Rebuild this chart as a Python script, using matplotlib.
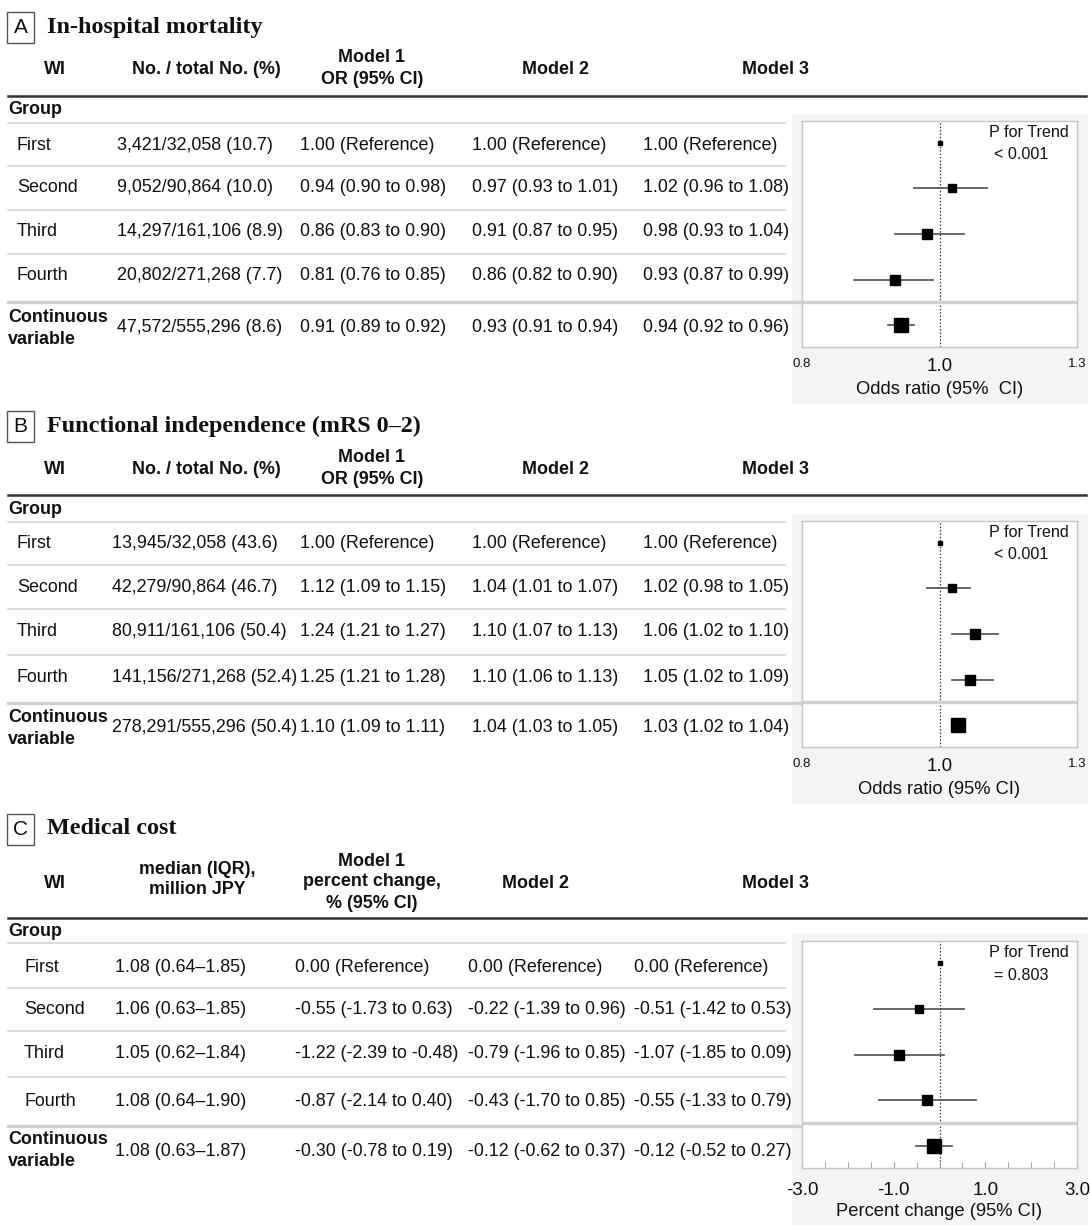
import numpy as np
import matplotlib.pyplot as plt
from matplotlib.patches import Rectangle

plt.rcParams["font.family"] = ["Liberation Sans", "DejaVu Sans"]

W, H = 1090, 1227

groups = ["First", "Second", "Third", "Fourth"]

# --- A: in-hospital mortality ---
a_events = [3421, 9052, 14297, 20802, 47572]
a_totals = [32058, 90864, 161106, 271268, 555296]
a_pct = [10.7, 10.0, 8.9, 7.7, 8.6]
a_m1 = [1.00, 0.94, 0.86, 0.81, 0.91]
a_m1_lo = [None, 0.90, 0.83, 0.76, 0.89]
a_m1_hi = [None, 0.98, 0.90, 0.85, 0.92]
a_m2 = [1.00, 0.97, 0.91, 0.86, 0.93]
a_m2_lo = [None, 0.93, 0.87, 0.82, 0.91]
a_m2_hi = [None, 1.01, 0.95, 0.90, 0.94]
a_m3 = [1.00, 1.02, 0.98, 0.93, 0.94]
a_m3_lo = [None, 0.96, 0.93, 0.87, 0.92]
a_m3_hi = [None, 1.08, 1.04, 0.99, 0.96]
a_trend = "< 0.001"

# --- B: functional independence ---
b_events = [13945, 42279, 80911, 141156, 278291]
b_totals = [32058, 90864, 161106, 271268, 555296]
b_pct = [43.6, 46.7, 50.4, 52.4, 50.4]
b_m1 = [1.00, 1.12, 1.24, 1.25, 1.10]
b_m1_lo = [None, 1.09, 1.21, 1.21, 1.09]
b_m1_hi = [None, 1.15, 1.27, 1.28, 1.11]
b_m2 = [1.00, 1.04, 1.10, 1.10, 1.04]
b_m2_lo = [None, 1.01, 1.07, 1.06, 1.03]
b_m2_hi = [None, 1.07, 1.13, 1.13, 1.05]
b_m3 = [1.00, 1.02, 1.06, 1.05, 1.03]
b_m3_lo = [None, 0.98, 1.02, 1.02, 1.02]
b_m3_hi = [None, 1.05, 1.10, 1.09, 1.04]
b_trend = "< 0.001"

# --- C: medical cost ---
c_median = [1.08, 1.06, 1.05, 1.08, 1.08]
c_q1 = [0.64, 0.63, 0.62, 0.64, 0.63]
c_q3 = [1.85, 1.85, 1.84, 1.90, 1.87]
c_m1 = [0.00, -0.55, -1.22, -0.87, -0.30]
c_m1_lo = [None, -1.73, -2.39, -2.14, -0.78]
c_m1_hi = [None, 0.63, -0.48, 0.40, 0.19]
c_m2 = [0.00, -0.22, -0.79, -0.43, -0.12]
c_m2_lo = [None, -1.39, -1.96, -1.70, -0.62]
c_m2_hi = [None, 0.96, 0.85, 0.85, 0.37]
c_m3 = [0.00, -0.51, -1.07, -0.55, -0.12]
c_m3_lo = [None, -1.42, -1.85, -1.33, -0.52]
c_m3_hi = [None, 0.53, 0.09, 0.79, 0.27]
# squares in the plot sit where they are drawn (centre of CI)
c_plot_est = [0.00, -0.45, -0.88, -0.27, -0.12]
c_trend = "= 0.803"

BODY = 12.9
HEAD = 12.9
INK = "#111111"


def fmt_est(est, lo, hi):
    if lo is None:
        return f"{est:.2f} (Reference)"
    return f"{est:.2f} ({lo:.2f} to {hi:.2f})"


fig = plt.figure(figsize=(W / 100, H / 100), dpi=100)
bg = fig.add_axes([0, 0, 1, 1])
bg.set_xlim(0, W)
bg.set_ylim(H, 0)
bg.axis("off")


def draw_table(letter, title, title_y, headers, head_line, group_y, group_line,
               rows_y, seps_y, cont_sep, label_x, col_x, cells):
    # letter box + title
    bg.add_patch(Rectangle((7, title_y - 15), 27, 31, fill=False, ec="#555555", lw=1))
    bg.text(20.5, title_y + 0.5, letter, ha="center", va="center", fontsize=15, color=INK)
    bg.text(47, title_y, title, ha="left", va="center", fontsize=17.4, color=INK,
            family="Liberation Serif", weight="bold")
    for x, y, s in headers:
        bg.text(x, y, s, ha="center", va="center", fontsize=HEAD, weight="bold", color=INK)
    bg.plot([8, 1086], [head_line, head_line], color="#333333", lw=1.8)
    bg.text(8, group_y, "Group", ha="left", va="center", fontsize=HEAD, weight="bold", color=INK)
    bg.plot([8, 785], [group_line, group_line], color="#d4d4d4", lw=1.2)
    for y in seps_y:
        bg.plot([8, 785], [y, y], color="#d4d4d4", lw=1.2)
    bg.plot([8, 800], [cont_sep, cont_sep], color="#cfcfcf", lw=2.4)
    for i, g in enumerate(groups):
        bg.text(label_x, rows_y[i], g, ha="left", va="center", fontsize=BODY, color=INK)
    bg.text(8, rows_y[4] - 11, "Continuous", ha="left", va="center", fontsize=HEAD,
            weight="bold", color=INK)
    bg.text(8, rows_y[4] + 11, "variable", ha="left", va="center", fontsize=HEAD,
            weight="bold", color=INK)
    for cx, col in zip(col_x, cells):
        for i, s in enumerate(col):
            bg.text(cx, rows_y[i], s, ha="left", va="center", fontsize=BODY, color=INK)


def draw_forest(box, est, lo, hi, log, xlim, ticks, ticklabels, tick_fs, xlabel,
                trend, minor=None):
    x0, y0, x1, y1 = box
    # light grey panel behind the plot
    bg.add_patch(Rectangle((x0 - 10, y0 - 7), x1 - x0 + 21, y1 - y0 + 64,
                           fc="#f4f4f4", ec="none"))
    ax = fig.add_axes([x0 / W, 1 - y1 / H, (x1 - x0) / W, (y1 - y0) / H])
    ax.set_facecolor("white")
    if log:
        ax.set_xscale("log")
    rows = np.arange(len(est))
    sizes = [3.2, 5.8, 6.6, 7.4, 9.8]
    ref = 1.0 if log else 0.0
    ax.axvline(ref, color="#333333", ls=(0, (1.2, 1.5)), lw=0.9, zorder=1)
    ax.axhline(3.5, color="#cfcfcf", lw=2.4, zorder=1)
    for i in rows:
        if lo[i] is not None:
            ax.plot([lo[i], hi[i]], [i, i], color="#555555", lw=1.25, zorder=2)
        ax.plot(est[i], i, marker="s", ms=sizes[i], color="black", mec="black", zorder=3)
    ax.set_xlim(*xlim)
    ax.set_ylim(4.48, -0.48)
    ax.set_yticks([])
    ax.set_xticks(ticks)
    ax.set_xticklabels(ticklabels)
    ax.xaxis.set_minor_locator(plt.NullLocator())
    for lab, fs in zip(ax.get_xticklabels(), tick_fs):
        lab.set_fontsize(fs)
        lab.set_color(INK)
    if minor is not None:
        ax.set_xticks(minor, minor=True)
        ax.tick_params(axis="x", which="both", direction="in", length=4, color="#999999", pad=10)
        ax.set_xlabel(xlabel, fontsize=13.2, color=INK, labelpad=3)
    else:
        ax.tick_params(axis="x", length=0, pad=8)
        ax.set_xlabel(xlabel, fontsize=13.2, color=INK, labelpad=4)
    for sp in ax.spines.values():
        sp.set_color("#c4c4c4")
        sp.set_linewidth(1)
    ax.text(0.68, 0.948, "P for Trend", transform=ax.transAxes, ha="left", va="center",
            fontsize=11.6, color=INK)
    ax.text(0.70, 0.85, trend, transform=ax.transAxes, ha="left", va="center",
            fontsize=11.6, color=INK)
    return ax


# ---------------- Panel A ----------------
cells_a = [
    [f"{e:,}/{t:,} ({p:.1f})" for e, t, p in zip(a_events, a_totals, a_pct)],
    [fmt_est(*v) for v in zip(a_m1, a_m1_lo, a_m1_hi)],
    [fmt_est(*v) for v in zip(a_m2, a_m2_lo, a_m2_hi)],
    [fmt_est(*v) for v in zip(a_m3, a_m3_lo, a_m3_hi)],
]
draw_table("A", "In-hospital mortality", 27,
           [(55, 70, "WI"), (206, 70, "No. / total No. (%)"), (372, 58, "Model 1"),
            (372, 80, "OR (95% CI)"), (556, 70, "Model 2"), (776, 70, "Model 3")],
           96, 110, 123, [145, 188, 232, 276, 328], [166, 210, 254], 302,
           17, [117, 300, 472, 643], cells_a)
draw_forest((802, 121, 1077, 347), a_m3, a_m3_lo, a_m3_hi, True, (0.8, 1.25),
            [0.8, 1.0, 1.25], ["0.8", "1.0", "1.3"], [9.5, 13.5, 9.5],
            "Odds ratio (95%  CI)", a_trend)

# ---------------- Panel B ----------------
cells_b = [
    [f"{e:,}/{t:,} ({p:.1f})" for e, t, p in zip(b_events, b_totals, b_pct)],
    [fmt_est(*v) for v in zip(b_m1, b_m1_lo, b_m1_hi)],
    [fmt_est(*v) for v in zip(b_m2, b_m2_lo, b_m2_hi)],
    [fmt_est(*v) for v in zip(b_m3, b_m3_lo, b_m3_hi)],
]
draw_table("B", "Functional independence (mRS 0\u20132)", 426,
           [(55, 470, "WI"), (206, 470, "No. / total No. (%)"), (372, 458, "Model 1"),
            (372, 480, "OR (95% CI)"), (556, 470, "Model 2"), (776, 470, "Model 3")],
           495, 509, 522, [544, 587, 631, 678, 728], [565, 609, 655], 703,
           17, [112, 300, 472, 643], cells_b)
draw_forest((802, 521, 1077, 747), b_m3, b_m3_lo, b_m3_hi, True, (0.8, 1.25),
            [0.8, 1.0, 1.25], ["0.8", "1.0", "1.3"], [9.5, 13.5, 9.5],
            "Odds ratio (95% CI)", b_trend)

# ---------------- Panel C ----------------
cells_c = [
    [f"{m:.2f} ({a:.2f}\u2013{b:.2f})" for m, a, b in zip(c_median, c_q1, c_q3)],
    [fmt_est(*v) for v in zip(c_m1, c_m1_lo, c_m1_hi)],
    [fmt_est(*v) for v in zip(c_m2, c_m2_lo, c_m2_hi)],
    [fmt_est(*v) for v in zip(c_m3, c_m3_lo, c_m3_hi)],
]
draw_table("C", "Medical cost", 829,
           [(55, 883, "WI"), (197, 869, "median (IQR),"), (197, 890, "million JPY"),
            (372, 861, "Model 1"), (372, 882, "percent change,"), (372, 903, "% (95% CI)"),
            (536, 883, "Model 2"), (776, 883, "Model 3")],
           918, 931, 943, [967, 1010, 1054, 1102, 1151], [988, 1031, 1077], 1126,
           24, [115, 295, 468, 634], cells_c)
draw_forest((802, 941, 1077, 1168), c_plot_est, c_m3_lo, c_m3_hi, False, (-3, 3),
            [-3, -1, 1, 3], ["-3.0", "-1.0", "1.0", "3.0"], [13.5] * 4,
            "Percent change (95% CI)", c_trend, minor=np.arange(-3, 3.01, 0.5))

fig.savefig("out.png", dpi=100)
